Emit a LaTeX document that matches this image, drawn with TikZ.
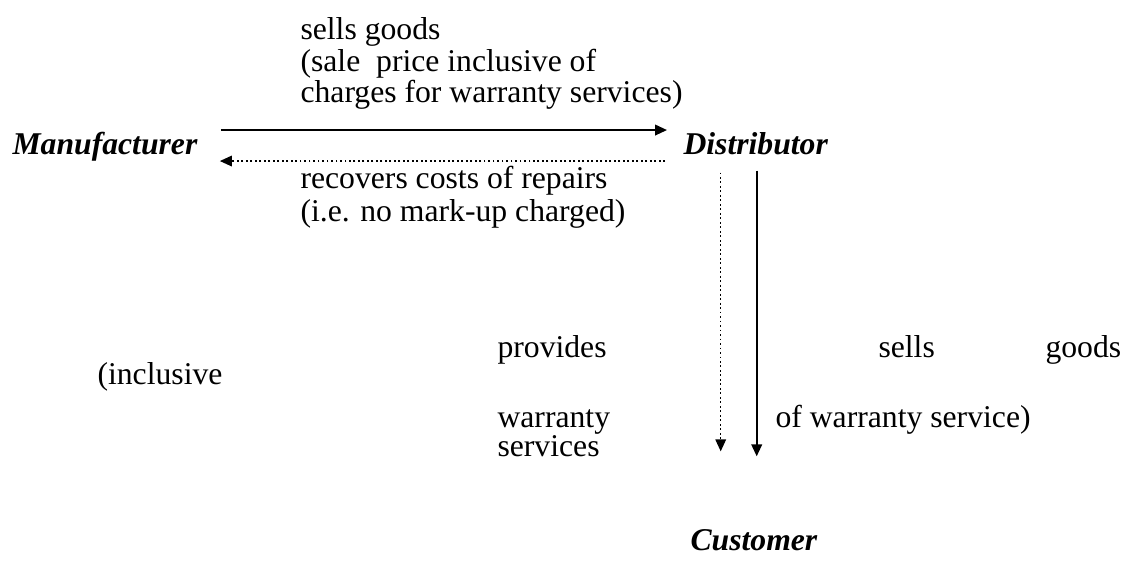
\documentclass[tikz,border=0pt]{standalone}
\usepackage{fontspec}
\setmainfont{Liberation Serif}
\usetikzlibrary{arrows.meta}

\begin{document}
\begin{tikzpicture}[
			x=0.3788pt, y=-0.3788pt,
			txt/.style={inner sep=0pt, anchor=base west, font=\fontsize{12}{14}\selectfont, text height=8pt, text depth=2.5pt},
			party/.style={txt, font=\fontsize{12}{14}\selectfont\bfseries\itshape},
			flow/.style={-{Triangle[length=4.5pt,width=4pt]}, line width=0.7pt},
			service/.style={flow, densely dotted, line width=0.5pt},
		]
			\useasboundingbox (0,0) rectangle (1124,568);

			\node[party] (manufacturer) at (12,155) {Manufacturer};
			\node[party] (distributor) at (683,155) {Distributor};
			\node[party] (customer) at (690,551) {Customer};

			% labels of the upper flows
			\node[txt] (sells1) at (300,40) {sells goods};
			\node[txt] (sells2) at (300,72) {(sale\ \ price inclusive of};
			\node[txt] (sells3) at (300,103) {charges for warranty services)};
			\node[txt] (recover1) at (300,189) {recovers costs of repairs};
			\node[txt] (recover2) at (300,222) {(i.e. no mark-up charged)};

			% labels of the lower flows
			\node[txt] (provides) at (497,358) {provides};
			\node[txt] (sellsb) at (878,358) {sells};
			\node[txt] (goodsb) at (1045,358) {goods};
			\node[txt] (inclusive) at (97,385) {(inclusive};
			\node[txt] (warranty) at (497,428) {warranty};
			\node[txt] (ofwarranty) at (775,428) {of warranty service)};
			\node[txt] (services) at (497,457) {services};

			\draw[flow] ([shift={(23,-17.7)}]manufacturer.east) -- ([shift={(-16,-17.7)}]distributor.west);
			\draw[service] ([shift={(-18,13.3)}]distributor.west) -- ([shift={(22,13.3)}]manufacturer.east);

			\draw[service] ([shift={(-35,10.4)}]distributor.south) -- ([shift={(-35,-78)}]distributor.south |- customer.north);
			\draw[flow] ([shift={(1,8.4)}]distributor.south) -- ([shift={(1,-73)}]distributor.south |- customer.north);
		\end{tikzpicture}
\end{document}
